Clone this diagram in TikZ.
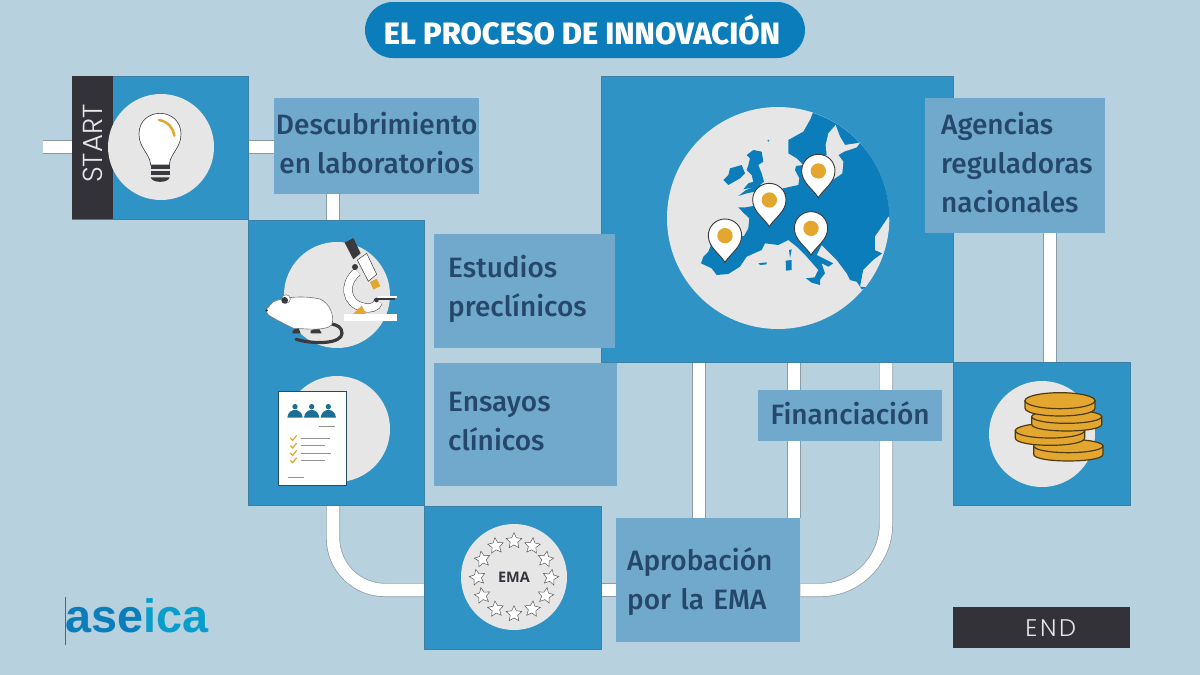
\documentclass[tikz,border=0pt]{standalone}
\usepackage{fontspec}
\setmainfont{Fira Sans}
\newfontfamily\labf{Fira Sans Medium}
\newfontfamily\thinf{Poppins Light}
\newfontfamily\logof{Liberation Sans}
\newfontfamily\emaf{Open Sans}
\usetikzlibrary{shapes.geometric,backgrounds,calc}
\definecolor{bgc}{HTML}{B8D1DE}
\definecolor{panelc}{HTML}{3093C6}
\definecolor{edgec}{HTML}{3F7FA3}
\definecolor{labc}{HTML}{70A9CC}
\definecolor{txtc}{HTML}{24476B}
\definecolor{pillc}{HTML}{0B7DBB}
\definecolor{darkc}{HTML}{333238}
\definecolor{goldc}{HTML}{E3A72F}
\definecolor{discc}{HTML}{E6E6E6}
\definecolor{pipec}{HTML}{8A9BA6}
\definecolor{tealc}{HTML}{1B6E94}
\definecolor{inkc}{HTML}{3A3A3E}
\tikzset{
  panel/.style={draw=edgec,line width=0.8pt,fill=panelc,anchor=north west,inner sep=0pt},
  lab/.style={fill=labc,anchor=north west,inner ysep=0pt,text=txtc,align=left,font=\labf\fontsize{28}{39}\selectfont},
  pipe/.style={draw=pipec,double=white,double distance=12.6pt,line width=0.7pt},
  disc/.style={fill=discc},
  coinbody/.style={fill=goldc,draw=black!65!goldc,line width=1.2pt},
  docline/.style={draw=gray!85,line width=1pt},
  check/.style={draw=goldc,line width=1.2pt},
}
\newcommand{\nudge}{\\[-33pt]\mbox{}}
\newcommand{\mappin}[2]{%
  \begin{scope}[shift={(#1,#2)}]
    \filldraw[fill=white,draw=inkc,line width=0.9pt] (0,80) .. controls (-15,55) and (-50,35) .. (-50,0)
      .. controls (-50,-28) and (-28,-50) .. (0,-50) .. controls (28,-50) and (50,-28) .. (50,0)
      .. controls (50,35) and (15,55) .. (0,80) -- cycle;
    \fill[goldc] (0,0) circle[radius=23];
  \end{scope}}
\newcommand{\goldcoin}[5]{% cx cy rx ry thick
  \filldraw[coinbody] (#1-#3,#2) -- (#1-#3,#2+#5) .. controls (#1-#3,#2+#5+1.33*#4) and (#1+#3,#2+#5+1.33*#4) .. (#1+#3,#2+#5) -- (#1+#3,#2) -- cycle;
  \filldraw[coinbody] (#1,#2) ellipse[x radius=#3,y radius=#4];}
\begin{document}
\begin{tikzpicture}[x=1pt,y=-1pt]
\useasboundingbox (0,0) rectangle (1200,675);

% panels
\node[panel,minimum width=176pt,minimum height=143pt] (start) at (72,76) {};
\node[panel,minimum width=176pt,minimum height=285pt] (pre) at (248,220) {};
\node[panel,minimum width=352pt,minimum height=286pt] (eu) at (601,76) {};
\node[panel,minimum width=177pt,minimum height=143pt] (coins) at (953,362) {};
\node[panel,minimum width=177pt,minimum height=143pt] (ema) at (424,506) {};

% start strip
\node[fill=darkc,anchor=north west,inner sep=0pt,minimum width=41pt,minimum height=143pt,text=discc] (strip) at (72,76)
  {\rotatebox{90}{\thinf\fontsize{27.5}{27.5}\selectfont\hspace*{8pt}START}};

% title
\node[fill=pillc,rounded corners=28pt,minimum width=440pt,minimum height=56pt,text=white,inner sep=0pt,font=\labf\bfseries\fontsize{30.9}{31}\selectfont] (title) at (585,30) {EL PROCESO DE INNOVACIÓN\hspace*{6pt}};

% discs
\fill[disc] (161,147) circle[radius=53];
\fill[disc] (337,295) circle[radius=53];
\fill[disc] (337,429) circle[radius=53];
\fill[disc] (778,218) circle[radius=111];
\fill[disc] (1042,434) circle[radius=53];
\fill[disc] (514,577) circle[radius=53];

% bulb
\begin{scope}[shift={(40,70)},scale=1/3]
  \filldraw[fill=white,draw=inkc,line width=0.6pt] (332,285) .. controls (330,250) and (297,235) .. (297,192)
    .. controls (297,150) and (330,130) .. (360,130) .. controls (395,130) and (423,155) .. (423,192)
    .. controls (423,235) and (390,250) .. (388,285) -- cycle;
  \draw[goldc,line width=2.5pt,line cap=round] (357,150) .. controls (385,155) and (400,175) .. (403,197);
  \fill[inkc] (332,284) rectangle (389,296);
  \fill[inkc] (332,303) rectangle (389,315);
  \fill[inkc] (332,322) -- (389,322) .. controls (385,340) and (336,340) .. (332,322) -- cycle;
\end{scope}

% rat, microscope, document
\begin{scope}[shift={(250,220)},scale=1/3]
  \draw[inkc,line width=3.2pt,line cap=round] (138,358) .. controls (200,375) and (275,370) .. (276,340) .. controls (276,322) and (262,315) .. (245,312);
  \fill[inkc] (128,332) -- (145,322) -- (152,340) -- (128,340) -- cycle;
  \fill[inkc] (182,332) -- (205,322) -- (215,340) -- (182,340) -- cycle;
  \filldraw[fill=white,draw=inkc!70,line width=0.6pt] (47,270) -- (70,245) .. controls (110,228) and (170,228) .. (210,237)
    .. controls (240,250) and (255,290) .. (245,315) .. controls (225,335) and (160,325) .. (130,325)
    .. controls (100,310) and (70,295) .. (55,285) -- cycle;
  \filldraw[fill=white,draw=inkc!70,line width=0.5pt] (108,237) circle[radius=13];
  \fill[inkc] (104,241) circle[radius=10];
  \fill[inkc] (50,271) circle[radius=4];
  % microscope
  \draw[inkc,line width=9pt] (322,155) .. controls (280,190) and (285,250) .. (340,262) .. controls (360,267) and (380,262) .. (385,245);
  \draw[white,line width=8pt] (322,155) .. controls (280,190) and (285,250) .. (340,262) .. controls (360,267) and (380,262) .. (385,245);
  \fill[goldc] (307,284) -- (335,257) -- (350,284) -- cycle;
  \fill[white] (283,282) rectangle (442,303);
  \fill[goldc] (360,186) -- (380,176) -- (391,198) -- (370,209) -- cycle;
  \filldraw[fill=white,draw=inkc,line width=0.5pt] (322,120) -- (350,100) -- (380,163) -- (355,184) -- cycle;
  \fill[inkc] (284,68) -- (310,54) -- (332,100) -- (310,118) -- cycle;
  \fill[inkc] (315,141) circle[radius=9];
  \fill[inkc] (379,240) circle[radius=7];
  \fill[white] (385,228) rectangle (440,233);
  \fill[inkc] (379,235) rectangle (436,240);
  % document
  \filldraw[fill=white,draw=edgec!60!black,line width=1pt] (85,515) rectangle (288,797);
  \foreach \p in {135,185,235}{
    \fill[tealc] (\p,560) circle[radius=8];
    \fill[tealc] (\p-23,593) .. controls (\p-20,562) and (\p+20,562) .. (\p+23,593) -- cycle;
  }
  \draw[docline] (207,619) -- (256,619);
  \draw[docline] (152,654) -- (240,654);
  \draw[docline] (152,677) -- (225,677);
  \draw[docline] (152,699) -- (243,699);
  \draw[docline] (152,721) -- (225,721);
  \draw[docline] (115,772) -- (162,772);
  \foreach \q in {654,677,699,721}{
    \draw[check] (121,\q) -- (128,\q+7) -- (140,\q-8);
  }
\end{scope}

% Europe map
\begin{scope}[shift={(640,90)},scale=1/3]
  \begin{scope}
    \clip (415,385) circle[radius=333];
    \fill[pillc] (183,520) -- (190,500) -- (205,485) -- (212,468) -- (205,445) -- (230,438) -- (300,440) -- (312,438) -- (325,415) -- (328,385) -- (310,368) -- (295,352) -- (318,352) -- (340,348) -- (345,340) -- (385,310) -- (430,295) -- (475,285) -- (478,265) -- (465,240) -- (468,228) -- (490,225) -- (470,205) -- (445,190) -- (445,150) -- (490,125) -- (510,90) -- (520,65) -- (560,30) -- (800,30) -- (800,380) -- (745,380) -- (705,440) -- (705,480) -- (728,490) -- (700,510) -- (670,540) -- (660,590) -- (650,575) -- (630,570) -- (620,550) -- (590,510) -- (545,465) -- (530,495) -- (580,520) -- (565,530) -- (545,520) -- (555,550) -- (535,575) -- (525,560) -- (535,540) -- (500,500) -- (470,470) -- (445,450) -- (415,465) -- (375,460) -- (365,480) -- (320,500) -- (300,530) -- (265,552) -- (230,555) -- (215,535) -- cycle;
    \fill[discc] (587,105) -- (600,140) -- (615,165) -- (660,158) -- (650,172) -- (612,185) -- (595,195) -- (610,215) -- (607,250) -- (570,275) -- (530,270) -- (500,250) -- (490,225) -- (520,205) -- (560,195) -- (557,165) -- (565,130) -- cycle;
    \fill[discc] (745,385) -- (705,440) -- (705,480) -- (728,490) -- (700,510) -- (670,540) -- (662,590) -- (760,600) -- (790,400) -- cycle;
    \fill[pillc] (340,180) -- (365,185) -- (370,215) -- (355,225) -- (365,250) -- (372,275) -- (360,285) -- (378,295) -- (345,305) -- (320,310) -- (295,318) -- (318,300) -- (340,292) -- (310,298) -- (325,280) -- (340,275) -- (335,255) -- (320,240) -- (325,225) -- (330,205) -- (320,195) -- cycle;
    \fill[pillc] (270,235) -- (305,225) -- (315,250) -- (300,265) -- (265,285) -- (250,270) -- (265,255) -- cycle;
    \fill[pillc] (447,480) -- (455,478) -- (450,505) -- cycle;
    \fill[pillc] (437,512) -- (455,510) -- (455,540) -- (438,542) -- cycle;
    \fill[pillc] (498,565) -- (540,560) -- (540,585) -- (515,578) -- cycle;
    \fill[pillc] (355,520) -- (380,517) -- (380,523) -- (360,525) -- cycle;
    \fill[pillc] (660,590) -- (680,592) -- (665,598) -- cycle;
    \fill[pillc] (385,152) circle[radius=3];
  \end{scope}
  \mappin{255}{437}
  \mappin{388}{330}
  \mappin{535}{243}
  \mappin{513}{415}
\end{scope}

% coins
\begin{scope}[shift={(950,360)},scale=1/3]
  \goldcoin{355}{258}{104}{20}{25}
  \goldcoin{300}{212}{104}{22}{22}
  \goldcoin{350}{170}{105}{20}{23}
  \goldcoin{330}{122}{105}{24}{22}
\end{scope}

% EMA
\node[font=\emaf\bfseries\fontsize{14.5}{14.5}\selectfont,text=darkc,inner sep=0pt] (emat) at (514,577.5) {EMA};
\foreach \i in {0,...,11}{
  \node[star,star points=5,star point ratio=2.1,fill=white,draw=gray!70!black,line width=0.5pt,minimum size=16.5pt,inner sep=0pt,rotate={-12*cos(\i*30)}] (st\i) at ({514+36.5*cos(\i*30)},{577.5+36.5*sin(\i*30)}) {};
}

% labels
\node[lab,inner xsep=0pt,text width=205pt,minimum height=96pt,align=center] (desc) at (274,98) {Descubrimiento\\en\hspace{6pt}laboratorios\nudge};
\node[lab,inner xsep=14pt,text width=153pt,minimum height=114pt] (estu) at (434,234) {Estudios\\preclínicos\\[-29pt]\mbox{}};
\node[lab,inner xsep=14pt,text width=155pt,minimum height=123pt] (ensa) at (434,363) {Ensayos\\clínicos\nudge};
\node[lab,inner xsep=16pt,text width=148pt,minimum height=135pt] (agen) at (925,98) {Agencias\\reguladoras\\nacionales\nudge};
\node[lab,inner xsep=0pt,text width=184pt,minimum height=51pt,align=center] (fina) at (758,390) {Financiación\nudge};
\node[lab,inner xsep=11pt,text width=162pt,minimum height=124pt] (apro) at (616,518) {\rule{0pt}{25pt}Aprobación\\por la EMA};

% end
\node[fill=darkc,anchor=north west,inner sep=0pt,minimum width=177pt,minimum height=41pt,text=discc,font=\thinf\fontsize{24}{24}\selectfont] (endn) at (953,607) {\hspace*{18pt}\addfontfeature{LetterSpace=11}END};

% logo
\node[anchor=base west,inner sep=0pt,font=\logof\bfseries\fontsize{46.8}{47}\selectfont] (logo) at (65,632) {\textcolor{pillc}{ase}\textcolor{pillc!75!cyan}{ica}};
\coordinate (lgt) at (65,597);
\coordinate (lgb) at (65,645);
\draw[pillc,line width=0.8pt] (lgt) -- (lgb);

% pipes beneath everything
\coordinate (inlet) at (43,147);
\coordinate (t1) at (333,300);
\coordinate (t2) at (500,590);
\coordinate (c1) at (699,450);
\coordinate (c2) at (794,450);
\coordinate (c3) at (886,450);
\coordinate (c4) at (1050,300);
\begin{pgfonlayer}{background}
  \fill[bgc] (0,0) rectangle (1200,675);
  \draw[pipe] (inlet) -- (inlet -| start.west);
  \draw[pipe] (inlet -| start.east) -- (inlet -| desc.west);
  \draw[pipe] (t1 |- desc.south) -- (t1 |- pre.north);
  \draw[pipe,rounded corners=52pt] (t1 |- pre.south) -- (t1 |- t2) -- (t2 -| ema.west);
  \draw[pipe] (t2 -| ema.east) -- (t2 -| apro.west);
  \draw[pipe,rounded corners=66pt] (t2 -| apro.east) -- (t2 -| c3) -- (c3 |- eu.south);
  \draw[pipe] (c1 |- apro.north) -- (c1 |- eu.south);
  \draw[pipe] (c2 |- apro.north) -- (c2 |- eu.south);
  \draw[pipe] (c4 |- agen.south) -- (c4 |- coins.north);
\end{pgfonlayer}
\end{tikzpicture}
\end{document}
